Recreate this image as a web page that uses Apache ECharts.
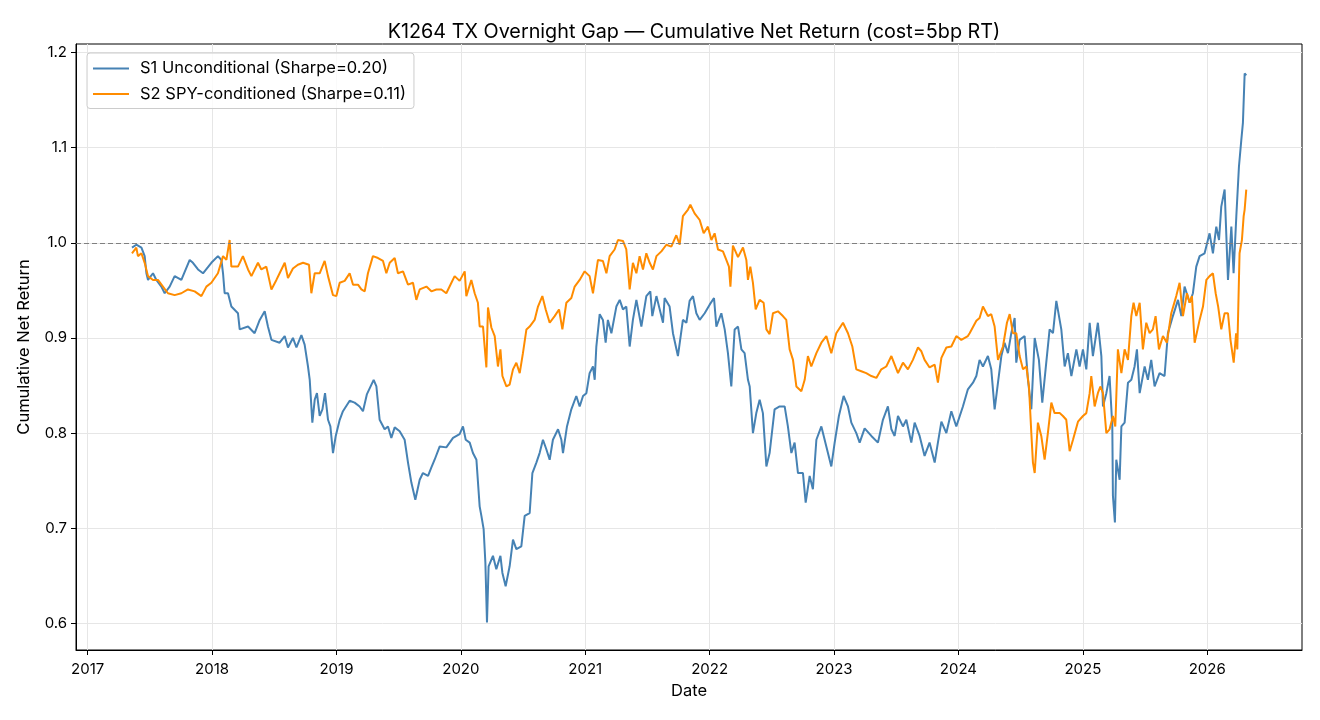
<!DOCTYPE html>
<html>
<head>
<meta charset="utf-8">
<title>K1264 TX Overnight Gap</title>
<script src="https://cdn.jsdelivr.net/npm/echarts@6/dist/echarts.min.js"></script>
<style>
    html, body { margin: 0; padding: 0; background: #ffffff; }
    #chart { width: 1320px; height: 720px; }
</style>
</head>
<body>
<div id="chart"></div>
<script>
var FONT = "Inter, 'Noto Sans', sans-serif";

var TITLE = "K1264 TX Overnight Gap \u2014 Cumulative Net Return (cost=5bp RT)";
var NAME_S1 = "S1 Unconditional (Sharpe=0.20)";
var NAME_S2 = "S2 SPY-conditioned (Sharpe=0.11)";

var X_TICKS = [2017, 2018, 2019, 2020, 2021, 2022, 2023, 2024, 2025, 2026];
var Y_TICKS = [0.6, 0.7, 0.8, 0.9, 1.0, 1.1, 1.2];
var BREAKEVEN = 1.0;

// dates as decimal years
var s1_t = [
    2017.356, 2017.391, 2017.432, 2017.458, 2017.472, 2017.485, 2017.525, 2017.552, 2017.592, 2017.619,
    2017.659, 2017.699, 2017.753, 2017.820, 2017.846, 2017.887, 2017.927, 2017.994, 2018.047, 2018.075,
    2018.088, 2018.101, 2018.128, 2018.155, 2018.208, 2018.222, 2018.289, 2018.342, 2018.383, 2018.423,
    2018.449, 2018.477, 2018.543, 2018.584, 2018.610, 2018.650, 2018.678, 2018.718, 2018.744, 2018.771,
    2018.785, 2018.806, 2018.825, 2018.843, 2018.865, 2018.887, 2018.908, 2018.932, 2018.951, 2018.972,
    2018.994, 2019.026, 2019.052, 2019.106, 2019.146, 2019.186, 2019.213, 2019.245, 2019.299, 2019.321,
    2019.347, 2019.387, 2019.414, 2019.441, 2019.468, 2019.508, 2019.548, 2019.575, 2019.602, 2019.634,
    2019.669, 2019.695, 2019.736, 2019.763, 2019.789, 2019.830, 2019.883, 2019.937, 2019.990, 2020.017,
    2020.039, 2020.071, 2020.097, 2020.125, 2020.151, 2020.165, 2020.183, 2020.197, 2020.210, 2020.223,
    2020.258, 2020.285, 2020.318, 2020.334, 2020.360, 2020.392, 2020.419, 2020.446, 2020.486, 2020.513,
    2020.553, 2020.575, 2020.607, 2020.633, 2020.660, 2020.687, 2020.714, 2020.740, 2020.781, 2020.808,
    2020.821, 2020.853, 2020.888, 2020.928, 2020.955, 2020.982, 2021.009, 2021.035, 2021.062, 2021.076,
    2021.089, 2021.116, 2021.142, 2021.164, 2021.182, 2021.210, 2021.250, 2021.277, 2021.303, 2021.330,
    2021.357, 2021.383, 2021.411, 2021.451, 2021.491, 2021.523, 2021.539, 2021.572, 2021.625, 2021.638,
    2021.678, 2021.705, 2021.745, 2021.785, 2021.813, 2021.839, 2021.866, 2021.893, 2021.920, 2021.960,
    2022.000, 2022.035, 2022.054, 2022.094, 2022.121, 2022.147, 2022.174, 2022.201, 2022.228, 2022.255,
    2022.281, 2022.308, 2022.322, 2022.348, 2022.375, 2022.402, 2022.428, 2022.456, 2022.482, 2022.522,
    2022.563, 2022.603, 2022.629, 2022.657, 2022.683, 2022.710, 2022.750, 2022.772, 2022.804, 2022.830,
    2022.858, 2022.898, 2022.938, 2022.978, 2023.005, 2023.039, 2023.077, 2023.112, 2023.139, 2023.179,
    2023.206, 2023.246, 2023.300, 2023.353, 2023.393, 2023.433, 2023.461, 2023.487, 2023.514, 2023.554,
    2023.581, 2023.621, 2023.648, 2023.688, 2023.728, 2023.768, 2023.809, 2023.835, 2023.863, 2023.903,
    2023.943, 2023.983, 2024.036, 2024.076, 2024.117, 2024.144, 2024.170, 2024.197, 2024.237, 2024.264,
    2024.291, 2024.318, 2024.345, 2024.371, 2024.398, 2024.425, 2024.452, 2024.465, 2024.492, 2024.532,
    2024.559, 2024.586, 2024.613, 2024.647, 2024.674, 2024.706, 2024.733, 2024.760, 2024.787, 2024.827,
    2024.854, 2024.880, 2024.908, 2024.948, 2024.974, 2025.001, 2025.028, 2025.055, 2025.081, 2025.121,
    2025.149, 2025.162, 2025.189, 2025.215, 2025.237, 2025.242, 2025.258, 2025.269, 2025.296, 2025.310,
    2025.336, 2025.363, 2025.390, 2025.416, 2025.435, 2025.457, 2025.497, 2025.523, 2025.550, 2025.577,
    2025.617, 2025.657, 2025.684, 2025.724, 2025.765, 2025.792, 2025.818, 2025.859, 2025.885, 2025.912,
    2025.939, 2025.979, 2026.019, 2026.046, 2026.073, 2026.095, 2026.113, 2026.140, 2026.167, 2026.194,
    2026.212, 2026.234, 2026.255, 2026.274, 2026.287, 2026.301, 2026.314
];
var s1_v = [
    0.995, 0.998, 0.995, 0.986, 0.968, 0.961, 0.968, 0.961, 0.954, 0.947,
    0.954, 0.965, 0.961, 0.982, 0.979, 0.972, 0.968, 0.979, 0.986, 0.982,
    0.968, 0.947, 0.947, 0.933, 0.926, 0.909, 0.912, 0.905, 0.919, 0.928,
    0.912, 0.898, 0.895, 0.902, 0.890, 0.900, 0.890, 0.903, 0.893, 0.870,
    0.856, 0.811, 0.835, 0.842, 0.818, 0.825, 0.842, 0.814, 0.807, 0.779,
    0.797, 0.814, 0.823, 0.834, 0.832, 0.828, 0.823, 0.841, 0.856, 0.849,
    0.814, 0.804, 0.807, 0.795, 0.806, 0.802, 0.793, 0.769, 0.748, 0.730,
    0.751, 0.758, 0.755, 0.764, 0.772, 0.786, 0.785, 0.795, 0.799, 0.807,
    0.793, 0.790, 0.779, 0.772, 0.723, 0.713, 0.699, 0.664, 0.601, 0.660,
    0.671, 0.657, 0.671, 0.653, 0.639, 0.660, 0.688, 0.678, 0.681, 0.713,
    0.716, 0.758, 0.769, 0.779, 0.793, 0.783, 0.772, 0.793, 0.804, 0.793,
    0.779, 0.807, 0.825, 0.839, 0.828, 0.839, 0.842, 0.863, 0.870, 0.856,
    0.891, 0.925, 0.919, 0.895, 0.919, 0.905, 0.933, 0.940, 0.930, 0.933,
    0.891, 0.919, 0.940, 0.912, 0.944, 0.949, 0.923, 0.944, 0.916, 0.942,
    0.933, 0.905, 0.881, 0.919, 0.916, 0.939, 0.944, 0.926, 0.919, 0.926,
    0.935, 0.942, 0.912, 0.926, 0.909, 0.884, 0.849, 0.909, 0.912, 0.888,
    0.884, 0.856, 0.849, 0.800, 0.821, 0.835, 0.821, 0.765, 0.779, 0.825,
    0.828, 0.828, 0.807, 0.779, 0.790, 0.758, 0.758, 0.727, 0.755, 0.741,
    0.793, 0.807, 0.786, 0.765, 0.790, 0.818, 0.839, 0.828, 0.811, 0.800,
    0.790, 0.805, 0.797, 0.790, 0.814, 0.828, 0.804, 0.797, 0.818, 0.807,
    0.814, 0.790, 0.811, 0.797, 0.776, 0.790, 0.769, 0.790, 0.812, 0.800,
    0.823, 0.807, 0.828, 0.846, 0.853, 0.860, 0.877, 0.870, 0.881, 0.867,
    0.825, 0.853, 0.881, 0.895, 0.884, 0.905, 0.921, 0.874, 0.898, 0.902,
    0.856, 0.825, 0.900, 0.877, 0.832, 0.874, 0.909, 0.905, 0.939, 0.909,
    0.870, 0.884, 0.860, 0.888, 0.870, 0.888, 0.867, 0.916, 0.881, 0.916,
    0.881, 0.828, 0.842, 0.860, 0.807, 0.734, 0.706, 0.772, 0.751, 0.807,
    0.811, 0.853, 0.856, 0.870, 0.888, 0.842, 0.870, 0.856, 0.877, 0.849,
    0.863, 0.860, 0.905, 0.923, 0.940, 0.923, 0.954, 0.937, 0.947, 0.975,
    0.986, 0.989, 1.010, 0.989, 1.017, 1.003, 1.038, 1.056, 0.961, 1.017,
    0.968, 1.028, 1.080, 1.108, 1.126, 1.178, 1.176
];

var s2_t = [
    2017.356, 2017.391, 2017.404, 2017.432, 2017.458, 2017.485, 2017.525, 2017.565, 2017.605, 2017.645,
    2017.699, 2017.753, 2017.806, 2017.860, 2017.914, 2017.954, 2017.994, 2018.047, 2018.088, 2018.115,
    2018.141, 2018.155, 2018.208, 2018.248, 2018.289, 2018.316, 2018.369, 2018.396, 2018.436, 2018.477,
    2018.517, 2018.543, 2018.584, 2018.610, 2018.650, 2018.690, 2018.731, 2018.779, 2018.798, 2018.825,
    2018.865, 2018.905, 2018.932, 2018.972, 2018.999, 2019.026, 2019.066, 2019.106, 2019.133, 2019.173,
    2019.200, 2019.227, 2019.253, 2019.293, 2019.334, 2019.374, 2019.401, 2019.428, 2019.468, 2019.494,
    2019.535, 2019.575, 2019.615, 2019.642, 2019.669, 2019.723, 2019.763, 2019.803, 2019.843, 2019.883,
    2019.924, 2019.950, 2019.990, 2020.031, 2020.044, 2020.084, 2020.111, 2020.137, 2020.151, 2020.178,
    2020.205, 2020.218, 2020.245, 2020.272, 2020.298, 2020.318, 2020.334, 2020.366, 2020.392, 2020.419,
    2020.446, 2020.473, 2020.499, 2020.527, 2020.553, 2020.593, 2020.620, 2020.655, 2020.682, 2020.714,
    2020.754, 2020.789, 2020.816, 2020.848, 2020.888, 2020.915, 2020.955, 2020.995, 2021.035, 2021.062,
    2021.102, 2021.142, 2021.170, 2021.196, 2021.236, 2021.263, 2021.303, 2021.330, 2021.357, 2021.383,
    2021.411, 2021.437, 2021.464, 2021.491, 2021.518, 2021.544, 2021.572, 2021.612, 2021.652, 2021.692,
    2021.732, 2021.759, 2021.785, 2021.826, 2021.845, 2021.879, 2021.920, 2021.952, 2021.986, 2022.014,
    2022.040, 2022.067, 2022.107, 2022.134, 2022.155, 2022.167, 2022.187, 2022.228, 2022.268, 2022.295,
    2022.308, 2022.327, 2022.348, 2022.370, 2022.402, 2022.434, 2022.456, 2022.482, 2022.509, 2022.549,
    2022.589, 2022.616, 2022.643, 2022.670, 2022.697, 2022.737, 2022.764, 2022.790, 2022.817, 2022.858,
    2022.898, 2022.938, 2022.978, 2023.018, 2023.072, 2023.112, 2023.147, 2023.179, 2023.219, 2023.259,
    2023.300, 2023.340, 2023.380, 2023.420, 2023.461, 2023.514, 2023.554, 2023.594, 2023.634, 2023.675,
    2023.702, 2023.728, 2023.768, 2023.809, 2023.835, 2023.863, 2023.903, 2023.943, 2023.983, 2024.023,
    2024.076, 2024.090, 2024.144, 2024.170, 2024.197, 2024.237, 2024.264, 2024.291, 2024.318, 2024.358,
    2024.390, 2024.412, 2024.438, 2024.465, 2024.492, 2024.519, 2024.546, 2024.567, 2024.586, 2024.599,
    2024.613, 2024.639, 2024.666, 2024.693, 2024.719, 2024.747, 2024.773, 2024.814, 2024.840, 2024.867,
    2024.894, 2024.921, 2024.961, 2025.001, 2025.028, 2025.055, 2025.068, 2025.095, 2025.121, 2025.141,
    2025.162, 2025.189, 2025.215, 2025.242, 2025.261, 2025.282, 2025.310, 2025.336, 2025.363, 2025.390,
    2025.408, 2025.430, 2025.457, 2025.483, 2025.510, 2025.537, 2025.563, 2025.585, 2025.612, 2025.644,
    2025.676, 2025.711, 2025.751, 2025.778, 2025.805, 2025.837, 2025.859, 2025.877, 2025.899, 2025.939,
    2025.966, 2025.993, 2026.019, 2026.046, 2026.068, 2026.088, 2026.113, 2026.140, 2026.167, 2026.187,
    2026.213, 2026.232, 2026.242, 2026.260, 2026.279, 2026.293, 2026.301, 2026.314
];
var s2_v = [
    0.989, 0.995, 0.986, 0.989, 0.979, 0.965, 0.961, 0.961, 0.954, 0.947,
    0.945, 0.947, 0.951, 0.949, 0.944, 0.954, 0.958, 0.968, 0.986, 0.982,
    1.003, 0.975, 0.975, 0.986, 0.972, 0.965, 0.979, 0.972, 0.975, 0.951,
    0.961, 0.968, 0.979, 0.963, 0.973, 0.977, 0.979, 0.977, 0.947, 0.968,
    0.968, 0.981, 0.965, 0.945, 0.944, 0.958, 0.960, 0.968, 0.956, 0.956,
    0.951, 0.949, 0.968, 0.986, 0.984, 0.981, 0.968, 0.979, 0.984, 0.968,
    0.970, 0.956, 0.958, 0.940, 0.951, 0.954, 0.949, 0.951, 0.951, 0.947,
    0.958, 0.965, 0.960, 0.970, 0.944, 0.961, 0.947, 0.937, 0.912, 0.912,
    0.869, 0.932, 0.911, 0.902, 0.870, 0.888, 0.860, 0.849, 0.851, 0.867,
    0.874, 0.863, 0.884, 0.909, 0.912, 0.919, 0.933, 0.944, 0.930, 0.916,
    0.923, 0.930, 0.909, 0.937, 0.942, 0.954, 0.961, 0.970, 0.965, 0.947,
    0.982, 0.981, 0.968, 0.986, 0.993, 1.003, 1.002, 0.993, 0.951, 0.979,
    0.968, 0.986, 0.972, 0.989, 0.979, 0.972, 0.986, 0.991, 0.998, 0.996,
    1.008, 0.998, 1.028, 1.035, 1.040, 1.031, 1.024, 1.010, 1.017, 1.003,
    1.010, 0.993, 0.991, 0.982, 0.975, 0.954, 0.997, 0.985, 0.995, 0.982,
    0.961, 0.975, 0.958, 0.930, 0.940, 0.937, 0.909, 0.904, 0.926, 0.928,
    0.923, 0.919, 0.888, 0.877, 0.849, 0.844, 0.856, 0.881, 0.870, 0.884,
    0.895, 0.902, 0.884, 0.905, 0.916, 0.905, 0.891, 0.867, 0.865, 0.863,
    0.860, 0.858, 0.867, 0.870, 0.881, 0.863, 0.874, 0.867, 0.877, 0.890,
    0.886, 0.877, 0.869, 0.872, 0.853, 0.879, 0.890, 0.891, 0.902, 0.898,
    0.902, 0.905, 0.918, 0.921, 0.933, 0.923, 0.925, 0.912, 0.877, 0.891,
    0.916, 0.925, 0.905, 0.905, 0.881, 0.867, 0.870, 0.849, 0.800, 0.769,
    0.758, 0.811, 0.797, 0.772, 0.800, 0.832, 0.821, 0.821, 0.818, 0.814,
    0.781, 0.793, 0.812, 0.818, 0.821, 0.842, 0.860, 0.828, 0.842, 0.849,
    0.842, 0.800, 0.804, 0.818, 0.807, 0.888, 0.863, 0.888, 0.877, 0.923,
    0.937, 0.923, 0.937, 0.888, 0.916, 0.905, 0.909, 0.923, 0.888, 0.902,
    0.895, 0.926, 0.944, 0.958, 0.923, 0.947, 0.937, 0.944, 0.895, 0.919,
    0.933, 0.961, 0.965, 0.968, 0.947, 0.933, 0.909, 0.926, 0.926, 0.898,
    0.874, 0.905, 0.888, 0.989, 1.003, 1.028, 1.035, 1.056, 1.055
];

function pairs(t, v)
{
    var out = [];
    for (var i = 0; i < t.length; i++) {
        out.push([t[i], v[i]]);
    }
    return out;
}

var chart = echarts.init(document.getElementById("chart"), null, {renderer: "canvas"});

var option = {
    animation: false,
    backgroundColor: "#ffffff",
    textStyle: {fontFamily: FONT, color: "#000000"},
    title: {
        text: TITLE,
        left: 689,
        textAlign: "center",
        top: 17,
        textStyle: {fontFamily: FONT, fontSize: 19.8, fontWeight: "normal", color: "#000000"}
    },
    legend: {
        orient: "vertical",
        left: 87,
        top: 53,
        padding: [7, 8, 6, 6],
        icon: "rect",
        itemWidth: 36,
        itemHeight: 2,
        itemGap: 8.5,
        backgroundColor: "rgba(255,255,255,0.8)",
        borderColor: "#cccccc",
        borderWidth: 1,
        borderRadius: 3,
        textStyle: {fontFamily: FONT, fontSize: 16.5, color: "#000000", padding: [0, 0, 0, 6]},
        data: [NAME_S1, NAME_S2]
    },
    grid: {
        left: 76,
        right: 18,
        top: 44,
        bottom: 70,
        show: true,
        borderColor: "#000000",
        borderWidth: 1,
        containLabel: false
    },
    xAxis: {
        type: "value",
        min: 2016.906,
        max: 2026.762,
        name: "Date",
        nameLocation: "middle",
        nameGap: 33,
        nameTextStyle: {fontFamily: FONT, fontSize: 16.5, color: "#000000"},
        axisLine: {show: true, onZero: false, lineStyle: {color: "#000000", width: 1}},
        axisTick: {show: true, customValues: X_TICKS, length: 5, lineStyle: {color: "#000000"}},
        axisLabel: {
            customValues: X_TICKS,
            margin: 12,
            fontFamily: FONT,
            fontSize: 15,
            color: "#000000",
            formatter: function (v) { return String(Math.round(v)); }
        },
        splitLine: {show: true, lineStyle: {color: "#e6e6e6", width: 1}}
    },
    yAxis: {
        type: "value",
        min: 0.572,
        max: 1.209,
        name: "Cumulative Net Return",
        nameLocation: "middle",
        nameGap: 43,
        nameRotate: 90,
        nameTextStyle: {fontFamily: FONT, fontSize: 16.5, color: "#000000"},
        axisLine: {show: true, onZero: false, lineStyle: {color: "#000000", width: 1}},
        axisTick: {show: true, customValues: Y_TICKS, length: 5, lineStyle: {color: "#000000"}},
        axisLabel: {
            customValues: Y_TICKS,
            margin: 9,
            fontFamily: FONT,
            fontSize: 15,
            color: "#000000",
            formatter: function (v) { return v.toFixed(1); }
        },
        splitLine: {show: true, lineStyle: {color: "#e6e6e6", width: 1}}
    },
    series: [
        {
            name: NAME_S1,
            type: "line",
            data: pairs(s1_t, s1_v),
            symbol: "none",
            z: 3,
            color: "#4682b4",
            lineStyle: {color: "#4682b4", width: 2},
            markLine: {
                silent: true,
                symbol: ["none", "none"],
                label: {show: false},
                lineStyle: {color: "#808080", type: [5, 3], width: 1},
                data: [{yAxis: BREAKEVEN}]
            }
        },
        {
            name: NAME_S2,
            type: "line",
            data: pairs(s2_t, s2_v),
            symbol: "none",
            z: 4,
            color: "#ff8c00",
            lineStyle: {color: "#ff8c00", width: 2}
        }
    ]
};

chart.setOption(option);
</script>
</body>
</html>
